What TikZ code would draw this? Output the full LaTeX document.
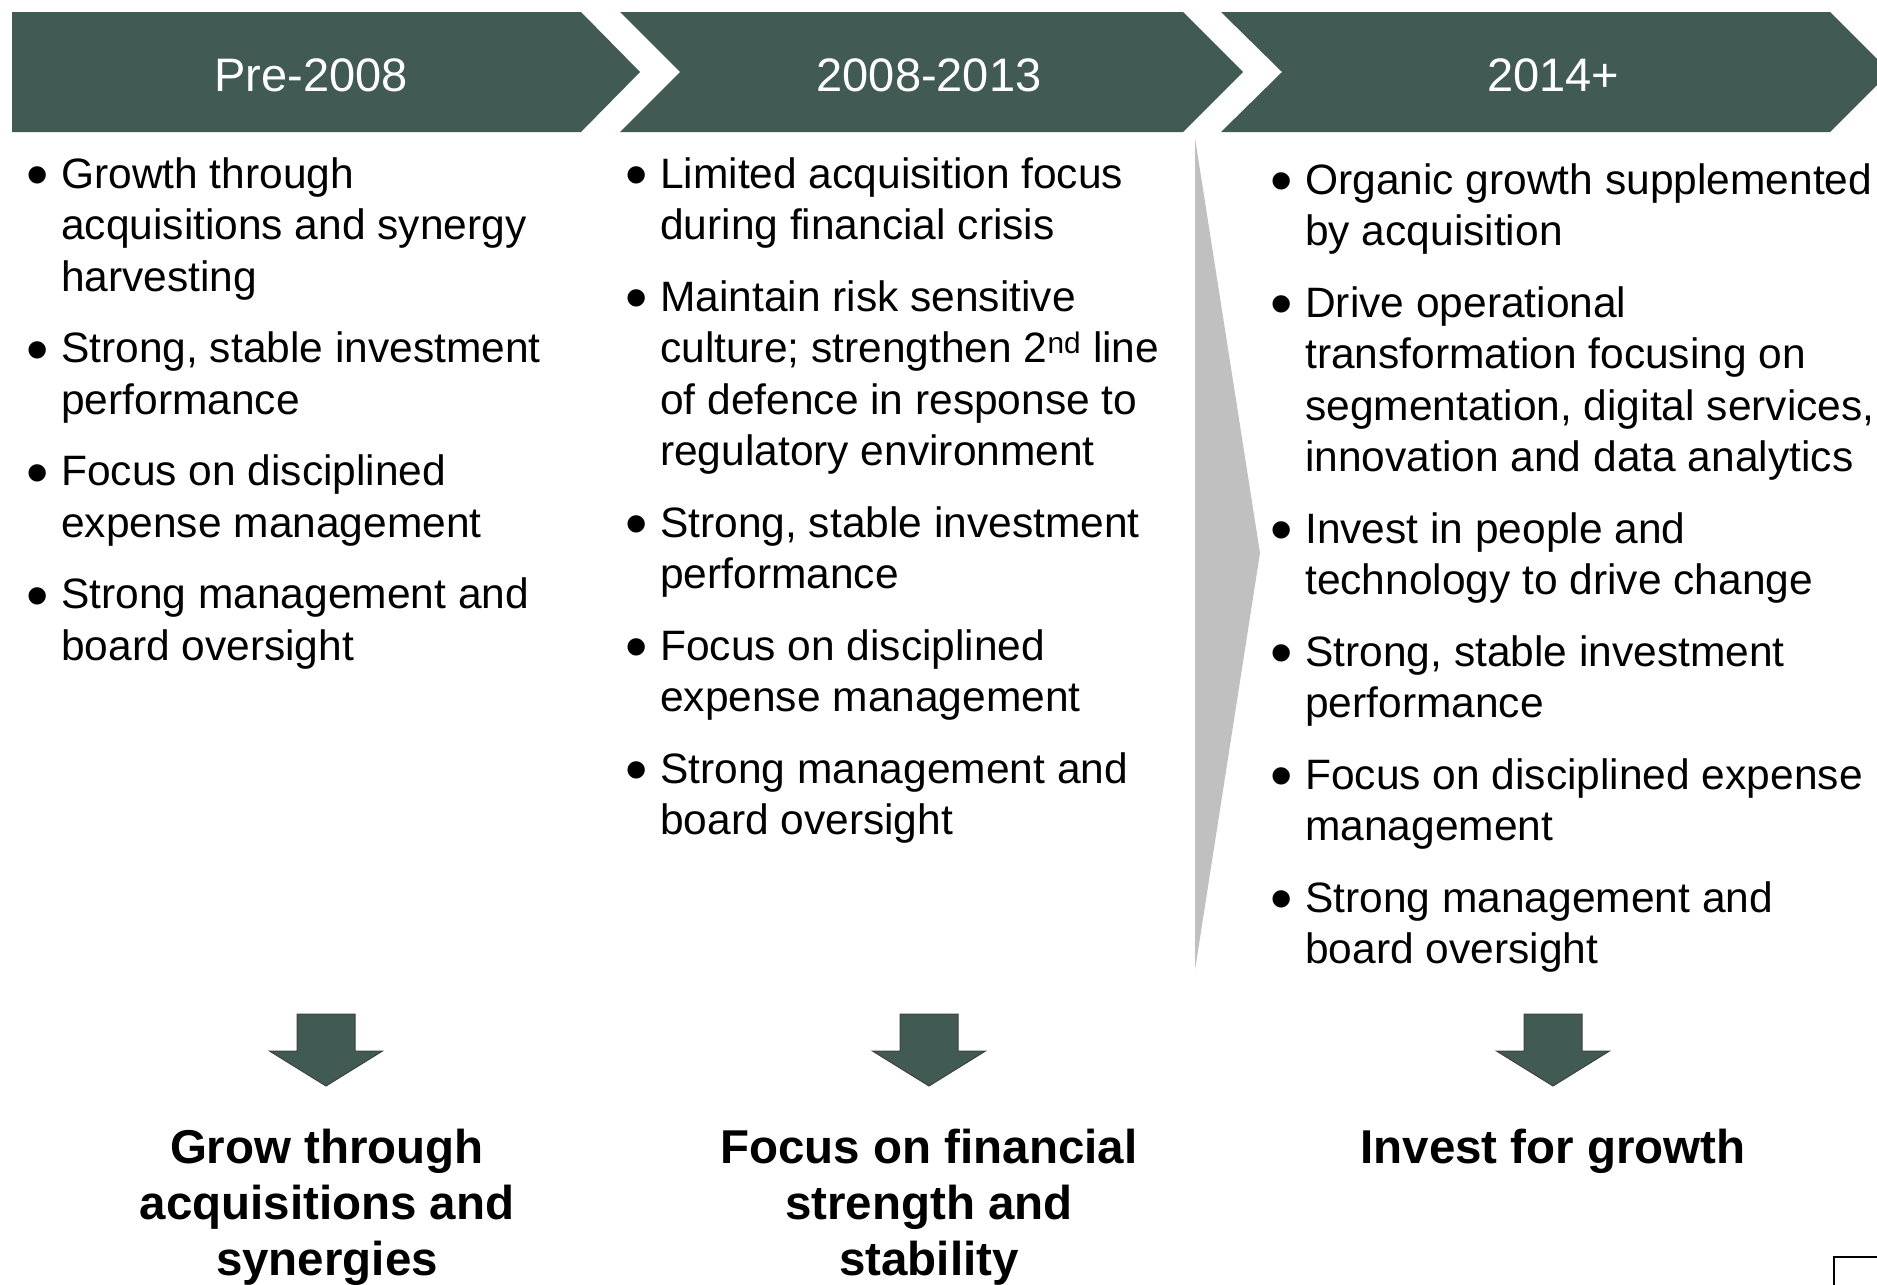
\documentclass[tikz,border=0pt]{standalone}
\usepackage{graphicx}
\usepackage{fontspec}
\setmainfont{Liberation Sans}
\definecolor{hdrgreen}{HTML}{415A53}
\definecolor{trigrey}{HTML}{C0C0C0}
\newcommand\bul{\makebox[33pt][l]{\strut\hspace*{-1.5pt}\raisebox{-8.5pt}{\scalebox{1.5}{\textbullet}}}}
\newcommand\ind{\hspace*{33pt}}
\begin{document}
\begin{tikzpicture}[x=1pt,y=-1pt,
  hdr/.style={fill=hdrgreen, draw=none},
  hdrtext/.style={text=white, font=\fontsize{47}{56}\selectfont, anchor=base, inner sep=0},
  body/.style={anchor=north west, inner sep=0, align=left, font=\fontsize{42.5}{51.5}\selectfont},
  concl/.style={anchor=north, inner sep=0, align=center, font=\bfseries\fontsize{47.5}{56}\selectfont},
  downarrow/.style={fill=hdrgreen, draw=black!75, line width=1pt},
  darrow/.pic={\path[downarrow] (-29,0) -- (29,0) -- (29,37) -- (56.5,37) -- (0,72) -- (-56.5,37) -- (-29,37) -- cycle;}
]
\useasboundingbox (0,0) rectangle (1877,1285);
\clip (0,0) rectangle (1877,1285);

% header chevrons
\path[hdr] (12,12) -- (581,12) -- (640,72) -- (581,132) -- (12,132) -- cycle;
\path[hdr] (620,12) -- (1183,12) -- (1243,72) -- (1183,132) -- (620,132) -- (680,72) -- cycle;
\path[hdr] (1221,12) -- (1830,12) -- (1890,72) -- (1830,132) -- (1221,132) -- (1282,72) -- cycle;
\node[hdrtext] (h1) at (311,91) {Pre-2008};
\node[hdrtext] (h2) at (929,91) {2008-2013};
\node[hdrtext] (h3) at (1553,91) {2014+};

% grey separator triangle
\path[fill=trigrey] (1195,138) -- (1260,553) -- (1195,970) -- cycle;

% bullet columns
\node[body] (c1) at (28,152) {\bul Growth through\\
\ind acquisitions and synergy\\
\ind harvesting\\[20pt]
\bul Strong, stable investment\\
\ind performance\\[20pt]
\bul Focus on disciplined\\
\ind expense management\\[20pt]
\bul Strong management and\\
\ind board oversight};

\node[body] (c2) at (627,152) {\bul Limited acquisition focus\\
\ind during financial crisis\\[20pt]
\bul Maintain risk sensitive\\
\ind culture; strengthen 2\textsuperscript{nd} line\\
\ind of defence in response to\\
\ind regulatory environment\\[20pt]
\bul Strong, stable investment\\
\ind performance\\[20pt]
\bul Focus on disciplined\\
\ind expense management\\[20pt]
\bul Strong management and\\
\ind board oversight};

\node[body] (c3) at (1272,158) {\bul Organic growth supplemented\\
\ind by acquisition\\[20pt]
\bul Drive operational\\
\ind transformation focusing on\\
\ind segmentation, digital services,\\
\ind innovation and data analytics\\[20pt]
\bul Invest in people and\\
\ind technology to drive change\\[20pt]
\bul Strong, stable investment\\
\ind performance\\[20pt]
\bul Focus on disciplined expense\\
\ind management\\[20pt]
\bul Strong management and\\
\ind board oversight};

% down arrows
\pic at (326,1014) {darrow};
\pic at (929,1014) {darrow};
\pic at (1553,1014) {darrow};

% conclusions
\node[concl] (b1) at (327,1124) {\strut Grow through\\acquisitions and\\synergies};
\node[concl] (b2) at (929,1124) {\strut Focus on financial\\strength and\\stability};
\node[concl] (b3) at (1553,1124) {\strut Invest for growth};

% corner frame
\draw[black, line width=2pt] (1834,1257) rectangle (1920,1320);
\end{tikzpicture}
\end{document}
